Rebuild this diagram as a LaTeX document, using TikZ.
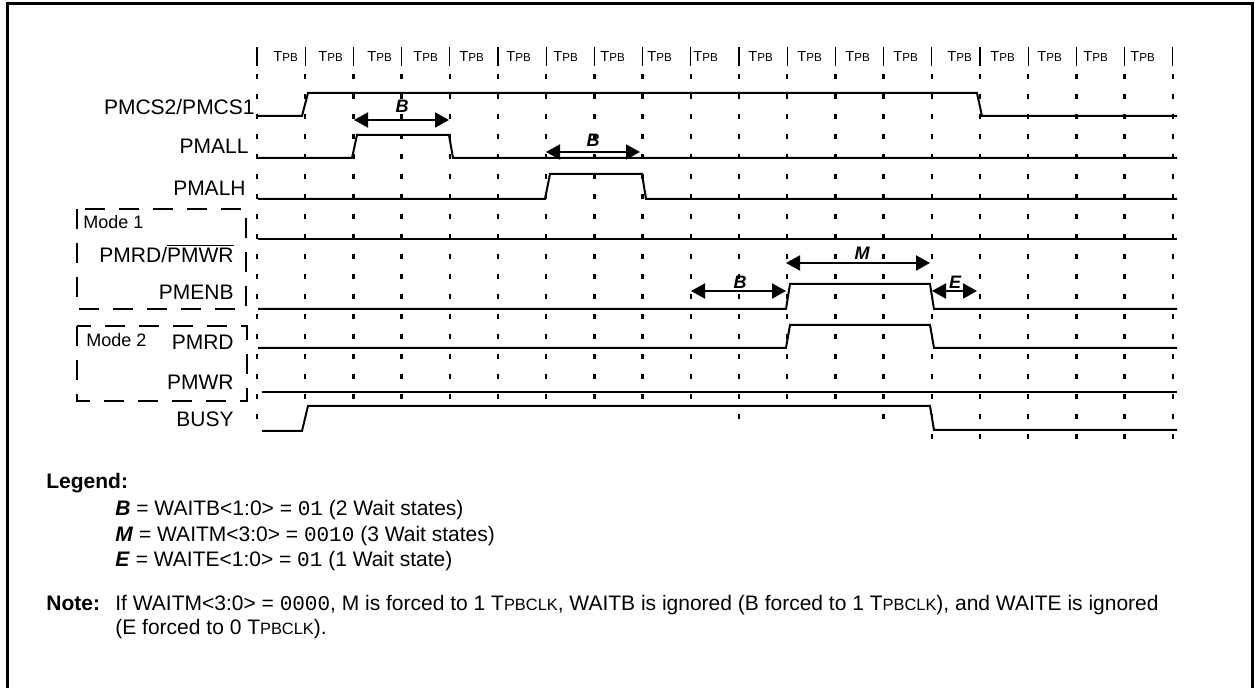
\documentclass[tikz,border=0pt]{standalone}
\usepackage{fontspec}
\setmainfont{Liberation Sans}
\setmonofont{Liberation Mono}
\usetikzlibrary{arrows.meta}
\newcommand{\tpb}{T{\fontsize{5.8}{6}\selectfont PB}}
\newcommand{\tpbclk}{T{\fontsize{8.2}{9}\selectfont PBCLK}}
\newcommand{\wsym}[1]{\textbf{\textit{#1}}}

\begin{document}
\begin{tikzpicture}[x=0.5pt,y=-0.5pt,font=\fontsize{10.5}{12}\selectfont,
  >={Triangle[length=7pt,width=7.5pt]},
  sig/.style={line width=1pt,line join=miter},
  tick/.style={line width=1.2pt,dash pattern=on 2.5pt off 7.5pt},
  modebox/.style={line width=1pt,dash pattern=on 10pt off 7pt},
  lbl/.style={anchor=base east,inner sep=0pt},
  txt/.style={anchor=base west,inner sep=0pt},
  wait/.style={<->,line width=1pt},
  waitlbl/.style={font=\fontsize{9}{10}\selectfont\bfseries\itshape,inner sep=0pt}]
\useasboundingbox (0,0) rectangle (1255,688);
\draw[line width=1.5pt] (7,692) -- (7,4) -- (1252,4) -- (1252,692);

% clock periods
\foreach \k in {0,...,19}
  \draw[line width=0.6pt] ({257+48.2*\k},47) -- ({257+48.2*\k},66);
\foreach \k/\xs in {0/273,1/318,2/367,3/413,4/459,5/506,6/553,7/600,8/647,9/693,
    10/748,11/797,12/845,13/893,14/947,15/990,16/1037,17/1083,18/1130}
  \node[txt,font=\fontsize{7.3}{8}\selectfont] (tpb\k) at (\xs,62) {\tpb};
\foreach \k/\yb in {0/430,1/400,2/400,3/400,4/400,5/400,6/400,7/400,8/400,9/400,
    10/420,11/400,12/400,13/420,14/446,15/446,16/446,17/446,18/446,19/446}
  \draw[tick] ({257+48.2*\k},74) -- ({257+48.2*\k},\yb);

% signal names
\node[lbl] (cs) at (255,115) {PMCS2/PMCS1};
\node[lbl] (all) at (249,154) {PMALL};
\node[lbl] (alh) at (246,196) {PMALH};
\node[lbl] (rdwr) at (234,263) {PMRD/$\overline{\mbox{PMWR}}$};
\node[lbl] (enb) at (234,300) {PMENB};
\node[lbl] (rd) at (234,350) {PMRD};
\node[lbl] (wr) at (234,390) {PMWR};
\node[lbl] (busy) at (234,427) {BUSY};
\draw[modebox] (77,209) rectangle (246,309);
\draw[modebox] (77,326) rectangle (247,401);
\node[txt,font=\fontsize{9}{10}\selectfont] (mode1) at (83,229) {Mode 1};
\node[txt,font=\fontsize{9}{10}\selectfont] (mode2) at (86,347) {Mode 2};

% waveforms
\draw[sig] (258,116) -- (302,116) -- (308,93) -- (977,93) -- (982,116) -- (1177,116);
\draw[sig] (258,158) -- (352,158) -- (357,135) -- (449,135) -- (453,158) -- (1177,158);
\draw[sig] (258,199) -- (545,199) -- (550,174) -- (642,174) -- (646,199) -- (1177,199);
\draw[sig] (258,239) -- (1177,239);
\draw[sig] (258,309) -- (786,309) -- (790,284) -- (930,284) -- (934,309) -- (1177,309);
\draw[sig] (258,348) -- (786,348) -- (790,325) -- (930,325) -- (934,348) -- (1177,348);
\draw[sig] (262,392) -- (1177,392);
\draw[sig] (262,431) -- (302,431) -- (308,406) -- (930,406) -- (934,430) -- (1177,430);

% wait states
\draw[wait] (354,120) -- (449,120);
\node[waitlbl] (b1) at (402,106) {B};
\draw[wait] (546,152) -- (640,152);
\node[waitlbl] (b2) at (593,140) {B};
\draw[wait] (691,291) -- (786,291);
\node[waitlbl] (b3) at (740,282) {B};
\draw[wait] (786,263) -- (930,263);
\node[waitlbl] (m) at (862,253) {M};
\draw[wait] (932,291) -- (977,291);
\node[waitlbl] (e) at (955,282) {E};

% legend and note
\node[txt] (legend) at (46,489) {\textbf{Legend:}};
\node[txt] (lgb) at (115,516) {\wsym{B} = WAITB<1:0> = \texttt{01} (2 Wait states)};
\node[txt] (lgm) at (115,542) {\wsym{M} = WAITM<3:0> = \texttt{0010} (3 Wait states)};
\node[txt] (lge) at (115,567) {\wsym{E} = WAITE<1:0> = \texttt{01} (1 Wait state)};
\node[txt] (note) at (46,611) {\textbf{Note:}};
\node[txt] (note1) at (115,611) {If WAITM<3:0> = \texttt{0000}, M is forced to 1 \tpbclk, WAITB is ignored (B forced to 1 \tpbclk), and WAITE is ignored};
\node[txt] (note2) at (115,635) {(E forced to 0 \tpbclk).};
\end{tikzpicture}
\end{document}
